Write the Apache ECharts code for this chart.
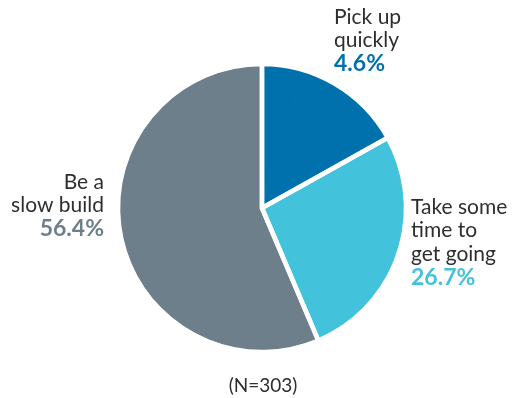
<!DOCTYPE html>
<html>
<head>
<meta charset="utf-8">
<script src="https://cdn.jsdelivr.net/npm/echarts@6/dist/echarts.min.js"></script>
<style>
  html, body { margin: 0; padding: 0; background: #ffffff; }
  #chart { width: 512px; height: 398px; }
</style>
</head>
<body>
<div id="chart"></div>
<script>
// Answers and their shares of respondents (percent)
const categories = ['Pick up\nquickly', 'Take some\ntime to\nget going', 'Be a\nslow build'];
const shares = [4.6, 26.7, 56.4];
// Share of respondents not covered by the three labelled answers
const unlabelledShare = 12.3;
const sliceColors = ['#0071ad', '#42c2db', '#6d7f8a'];
const sampleNote = '(N=303)';

const FONT = 'Lato, "Open Sans", sans-serif';
const CENTER = [262, 208];
const RADIUS = 144;

// Where each answer's text block sits (keyed by answer index)
const labelSpots = [
  { x: 334, y: 5, align: 'left' },
  { x: 411, y: 195, align: 'left' },
  { x: 104, y: 170, align: 'right' }
];

const pieData = [
  { name: categories[0], value: shares[0], answer: 0,
    itemStyle: { color: sliceColors[0], borderColor: sliceColors[0], borderWidth: 1 } },
  { name: 'other', value: unlabelledShare, answer: -1,
    itemStyle: { color: sliceColors[0], borderColor: sliceColors[0], borderWidth: 1 },
    label: { show: false } },
  { name: categories[1], value: shares[1], answer: 1, itemStyle: { color: sliceColors[1] } },
  { name: categories[2], value: shares[2], answer: 2, itemStyle: { color: sliceColors[2] } }
];

// White separators drawn over the filled sectors
const separatorData = [
  { value: shares[0] + unlabelledShare },
  { value: shares[1] },
  { value: shares[2] }
];

const chart = echarts.init(document.getElementById('chart'), null, { renderer: 'canvas' });

const nameStyle = { fontFamily: FONT, fontSize: 21, lineHeight: 23.5, color: '#2e2e2e' };
const pctStyle = (c) => ({ fontFamily: FONT, fontSize: 23, lineHeight: 23.5, fontWeight: 'bold', color: c });

chart.setOption({
  animation: false,
  title: {
    text: sampleNote,
    left: 258,
    top: 371,
    textAlign: 'center',
    textStyle: { fontFamily: FONT, fontSize: 19, fontWeight: 'normal', color: '#2e2e2e' }
  },
  series: [
    {
      type: 'pie',
      center: CENTER,
      radius: RADIUS,
      startAngle: 90,
      clockwise: true,
      avoidLabelOverlap: false,
      emphasis: { disabled: true },
      labelLine: { show: false },
      label: {
        show: true,
        position: 'outside',
        formatter: function (p) {
          return '{n|' + p.name + '}\n{p' + p.data.answer + '|' + p.value.toFixed(1) + '%}';
        },
        rich: {
          n: nameStyle,
          p0: pctStyle(sliceColors[0]),
          p1: pctStyle(sliceColors[1]),
          p2: pctStyle(sliceColors[2])
        }
      },
      labelLayout: function (params) {
        const item = pieData[params.dataIndex];
        if (!item || item.answer < 0) return {};
        const spot = labelSpots[item.answer];
        return { x: spot.x, y: spot.y, align: spot.align, verticalAlign: 'top' };
      },
      data: pieData
    },
    {
      type: 'pie',
      silent: true,
      z: 3,
      center: CENTER,
      radius: RADIUS,
      startAngle: 90,
      clockwise: true,
      label: { show: false },
      labelLine: { show: false },
      emphasis: { disabled: true },
      itemStyle: { color: 'rgba(0,0,0,0)', borderColor: '#ffffff', borderWidth: 4.5 },
      data: separatorData
    }
  ]
});
</script>
</body>
</html>
